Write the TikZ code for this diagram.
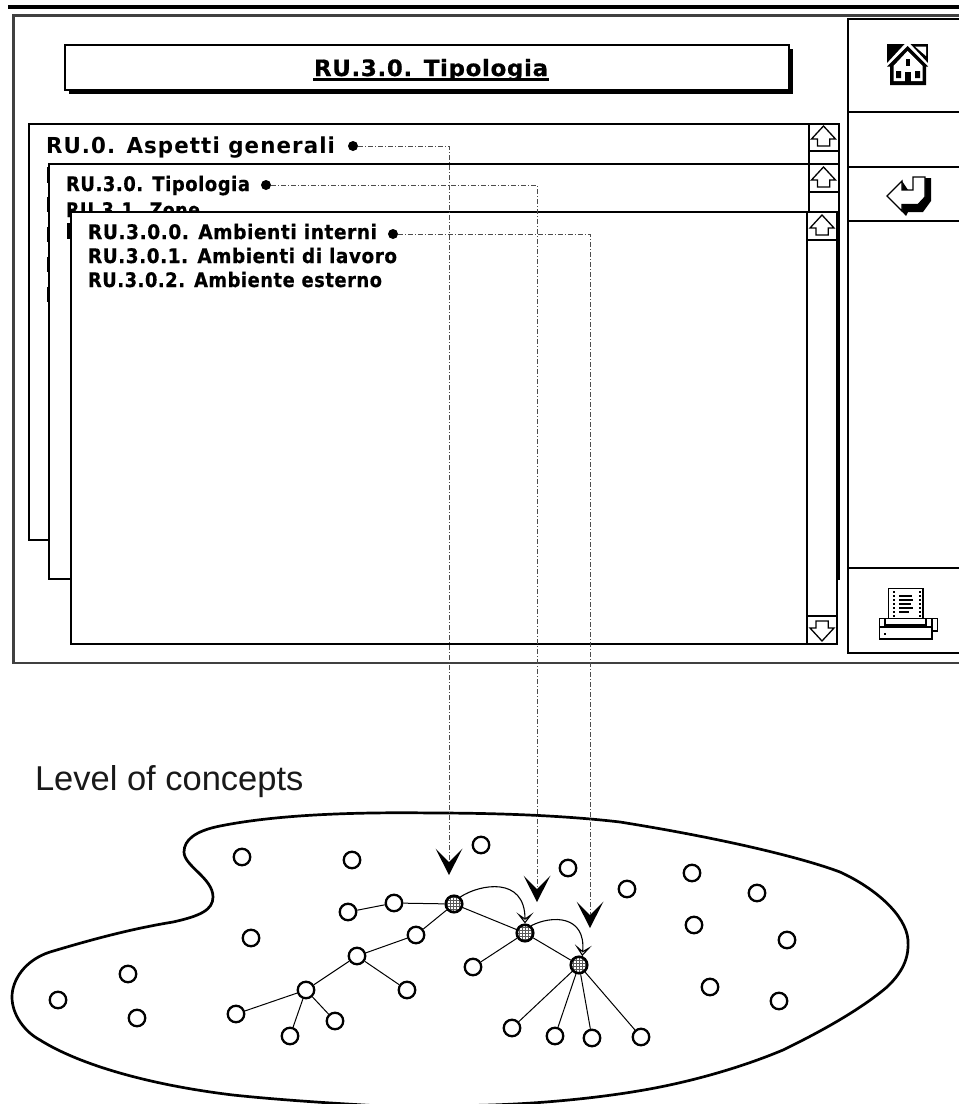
\documentclass[tikz,border=0pt]{standalone}
\usepackage{fontspec}
\usepackage{graphicx}
\setmainfont{Liberation Sans}
\newfontfamily\pxfont[LetterSpace=3,FakeBold=0.6]{DejaVu Sans}
\newfontfamily\pxreg[LetterSpace=5]{DejaVu Sans}
\usetikzlibrary{arrows.meta,patterns,calc}
\newcommand{\fitw}[2]{\resizebox{#1pt}{\height}{#2}}
\tikzset{
  x=1pt,y=-1pt,
  win/.style={draw=black,fill=white,line width=2pt},
  bar/.style={draw=black,line width=2pt},
  frameline/.style={draw=black!75,line width=2.6pt},
  lbl/.style={anchor=base west,inner sep=0pt,outer sep=0pt},
  bigtxt/.style={lbl,font=\pxreg\bfseries\fontsize{22}{22}\selectfont},
  smalltxt/.style={lbl,font=\pxfont\bfseries\fontsize{20}{20}\selectfont},
  bul/.style={circle,fill=black,inner sep=0pt,minimum size=10pt},
  concept/.style={circle,draw=black,fill=white,line width=2.3pt,inner sep=0pt,minimum size=16.5pt},
  hub/.style={circle,draw=black,line width=2.6pt,inner sep=0pt,minimum size=16.5pt,
     preaction={fill=white},pattern=grid,pattern color=black!65},
  link/.style={draw=black,line width=1pt},
  leader/.style={draw=black!70,line width=.8pt,dash pattern=on 5pt off 2pt on 1pt off 2pt},
  curveto/.style={draw=black,line width=1.1pt,-{Stealth[open,fill=white,length=11pt,width=17pt,inset=6pt,line width=1.1pt]}},
  uparr/.pic={\draw[black,line width=1.3pt,fill=white] (0,0)--(12,13)--(6.3,13)--(6.3,20)--(-6,20)--(-6,13)--(-12,13)--cycle;},
  dnarr/.pic={\draw[black,line width=1.3pt,fill=white] (0,0)--(12,-13)--(6.3,-13)--(6.3,-20)--(-6,-20)--(-6,-13)--(-12,-13)--cycle;},
  chev/.pic={\fill[black] (0,13) -- (-13.5,-13.5) -- (0,0) -- (13.5,-13.5) -- cycle;}
}
\begin{document}
\begin{tikzpicture}
\useasboundingbox[fill=white] (0,0) rectangle (959,1104);
% top rule and screen frame
\fill[black] (8,5) rectangle (959,9);
\draw[frameline] (959,15.5)--(13.5,15.5)--(13.5,663)--(959,663);
% side panel
\draw[bar] (959,18.5)--(848,18.5)--(848,653)--(959,653);
\draw[bar] (848,112)--(959,112);
\draw[bar] (848,167)--(959,167);
\draw[bar] (848,221)--(959,221);
\draw[bar] (848,568)--(959,568);
% title box
\fill[black] (69,49) rectangle (793,94);
\draw[win] (65,44.5) rectangle (789,89.5);
\node[lbl,font=\pxfont\bfseries\fontsize{22.5}{22.5}\selectfont] (title) at (314,76) {\fitw{234}{RU.3.0. Tipologia}};
\draw[black,line width=2.4pt] ($(title.base west)+(-1,3.5)$) -- ($(title.base east)+(1,3.5)$);
% window 1
\draw[win] (28.5,123.5) rectangle (839,540);
\draw[bar] (809,123.5)--(809,164) (809,151)--(839,151);
\pic at (823.5,126) {uparr};
\node[bigtxt] (t1) at (46,153) {\fitw{289}{RU.0. Aspetti generali}};
% window 2
\draw[win] (49,164) rectangle (839,579);
\draw[bar] (809,164)--(809,212) (809,192)--(839,192);
\pic at (823.5,167) {uparr};
\foreach \ya/\yb in {167/183,197/212,227/242,257/272,287/302}
  \fill[black] (47,\ya) rectangle (49,\yb);
\node[smalltxt] (t2) at (66,191) {\fitw{184}{RU.3.0. Tipologia}};
\node[smalltxt] (t3) at (66,217) {\fitw{134}{RU.3.1. Zone}};
\fill[black] (67,223) rectangle (71,239);
% window 3
\draw[win] (71,212) rectangle (836.5,644);
\draw[bar] (807,212)--(807,644) (807,240)--(836.5,240) (807,616)--(836.5,616);
\pic at (822,215) {uparr};
\pic at (822,641) {dnarr};
\node[smalltxt] (t4) at (88,239) {\fitw{289}{RU.3.0.0. Ambienti interni}};
\node[smalltxt] (t5) at (88,263) {\fitw{309}{RU.3.0.1. Ambienti di lavoro}};
\node[smalltxt] (t6) at (88,287) {\fitw{294}{RU.3.0.2. Ambiente esterno}};
% house icon
\fill[black] (887,44) rectangle (928,66);
\fill[white] (915,46.5) -- (926,46.5) -- (926,56) -- cycle;
\fill[white] (907.5,41) -- (932,67.5) -- (883,67.5) -- cycle;
\fill[black] (907.5,46) -- (928,66.5) -- (926,66.5) -- (926,85) -- (890,85) -- (890,66.5) -- (887,66.5) -- cycle;
\fill[white] (907.5,51) -- (922.5,66) -- (922.5,81) -- (893.5,81) -- (893.5,66) -- cycle;
\fill[black] (905,72) rectangle (911,84);
\fill[black] (906,59) rectangle (910,66);
\fill[black] (896,71) rectangle (901,78) (915,71) rectangle (920,78);
% return icon
\fill[black] (902,181) -- (908,190) -- (916,190) -- (916,178) -- (931,178) -- (931,201) -- (923,212) -- (908,212) -- (906,216) -- (896,205) -- cycle;
\draw[black,line width=1.2pt,fill=white] (887,196) -- (902,181) -- (902,190) -- (913,190) -- (913,177) -- (925,177) -- (925,197) -- (918,204.5) -- (902,204.5) -- (902,211) -- cycle;
% printer icon
\draw[black,line width=1.2pt,fill=white] (888.5,588.5) rectangle (923,619);
\foreach \yy in {591,595,599,603,607,611,615}{
  \fill[black] (892.5,\yy) rectangle (894.5,\yy+2);
  \fill[black] (918.5,\yy) rectangle (920.5,\yy+2);
}
\draw[black,line width=1.5pt] (899,596)--(912,596) (899,600)--(913,600) (899,604)--(911,604) (899,608)--(913,608) (899,612)--(909,612);
\draw[black,line width=1.2pt,fill=white] (932,618.5) rectangle (937.5,631);
\draw[black,line width=1.2pt,fill=white] (879.5,618.5) rectangle (932,639);
\draw[black,line width=1.2pt] (885,619) -- (885,625) -- (926,625) -- (926,619);
\draw[black,line width=1.2pt] (879.5,627) -- (932,627);
\fill[black] (884,633) rectangle (886,635);
% label
\node[lbl,font=\fontsize{34.5}{34.5}\selectfont,text=black!90] (lev) at (35,790) {Level of concepts};
% concept region
\draw[black,line width=2.7pt] (470,1105.5) .. controls (540,1104.5) and (610,1097) .. (660,1087)
 .. controls (695,1080) and (740,1068) .. (783,1050)
 .. controls (820,1032) and (860,1010) .. (887,987)
 .. controls (905,970) and (909,955) .. (908,940)
 .. controls (906,915) and (875,888) .. (840,872)
 .. controls (800,857) and (720,838) .. (620,822)
 .. controls (560,815) and (490,813) .. (433,813)
 .. controls (360,812) and (280,814) .. (220,826)
 .. controls (195,831) and (184,840) .. (184,852)
 .. controls (184,866) and (213,878) .. (213,897)
 .. controls (213,910) and (200,916) .. (173,922)
 .. controls (130,929) and (90,940) .. (50,952)
 .. controls (25,960) and (12,980) .. (12,997)
 .. controls (12,1015) and (25,1032) .. (40,1040)
 .. controls (80,1065) and (150,1085) .. (233,1095)
 .. controls (280,1100) and (330,1103) .. (372,1105.5);
% concepts
\node[hub] (s1) at (454,904) {};
\node[hub] (s2) at (525,933) {};
\node[hub] (s3) at (579,965) {};
\foreach \nm/\px/\py in {a1/242/857,a2/352/860,a3/348/912,a4/394/903,a5/416/935,a6/357/956,a7/407/990,a8/306/990,
  a9/236/1014,a10/335/1021,a11/290/1036,a12/251/938,a13/128/974,a14/58/1000,a15/137/1018,
  b1/481/845,b2/568/868,b3/627/889,b4/692/873,b5/757/893,b6/694/925,b7/787/940,b8/710/987,b9/779/1001,
  c1/473/967,c2/512/1028,c3/555/1036,c4/592/1038,c5/641/1037}
  \node[concept] (\nm) at (\px,\py) {};
\foreach \ua/\ub in {a3/a4,a4/s1,s1/a5,a5/a6,a6/a7,a6/a8,a8/a9,a8/a10,a8/a11,s1/s2,s2/c1,s2/s3,s3/c2,s3/c3,s3/c4,s3/c5}
  \draw[link] (\ua) -- (\ub);
\draw[curveto] (s1.48) .. controls (480,884) and (525,876) .. (s2.north);
\draw[curveto] (s2.50) .. controls (552,915) and (586,915) .. (s3.70);
% chevrons
\coordinate (n1) at (449,862);
\coordinate (n2) at (537,889);
\coordinate (n3) at (590,915);
\pic at (n1) {chev};
\pic at (n2) {chev};
\pic at (n3) {chev};
% bullets and leaders
\node[bul] (d1) at (353,146) {};
\node[bul] (d2) at (266,185) {};
\node[bul] (d3) at (393,234) {};
\draw[leader] (d1) -| (n1);
\draw[leader] (d2) -| (n2);
\draw[leader] (d3) -| (n3);
\end{tikzpicture}
\end{document}
